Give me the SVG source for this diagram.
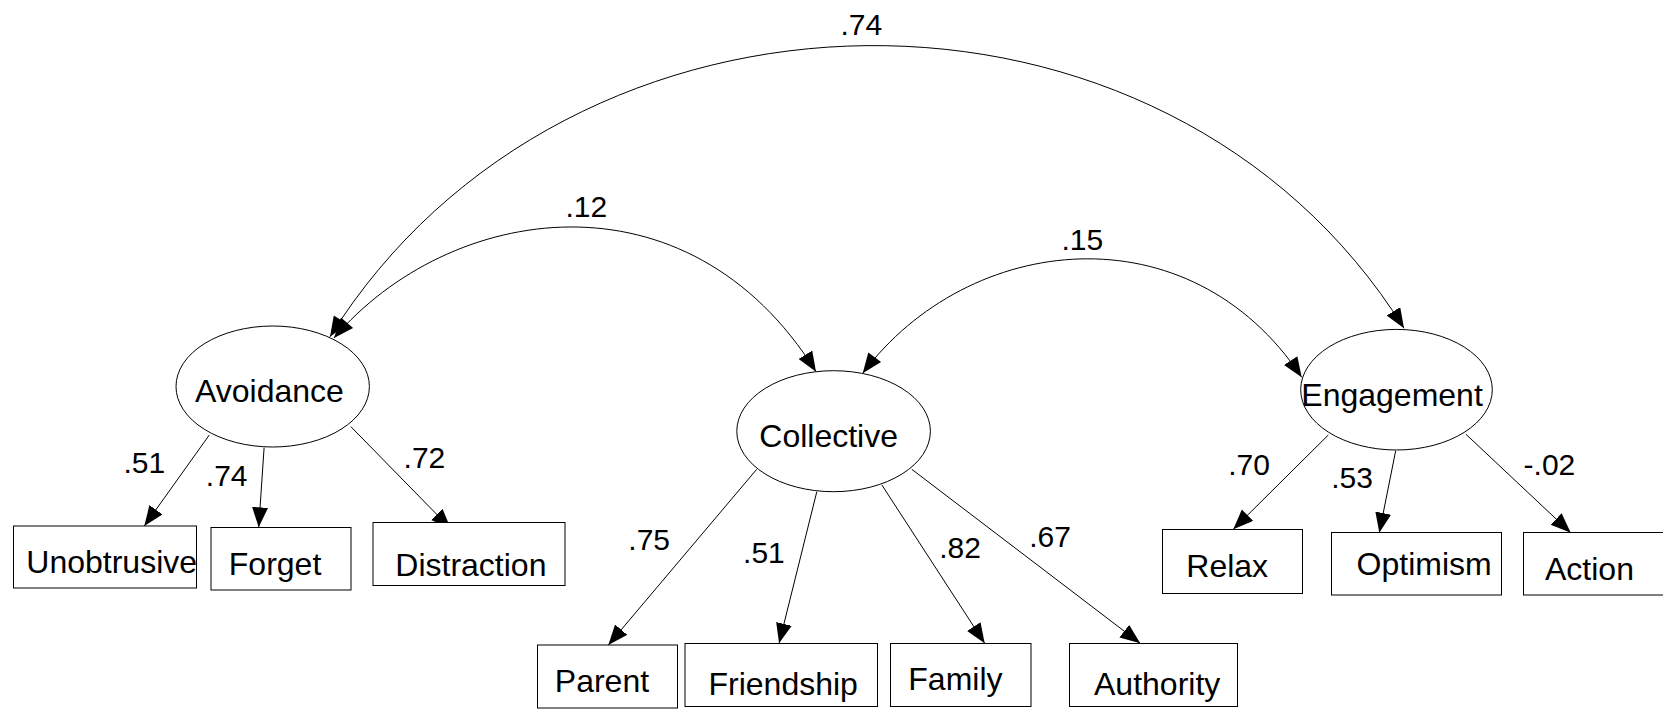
<svg xmlns="http://www.w3.org/2000/svg" width="1663" height="709" viewBox="0 0 1663 709">
<defs>
<marker id="ah" markerUnits="userSpaceOnUse" markerWidth="22" markerHeight="18" refX="20" refY="8" orient="auto">
<path d="M0,0 L20,8 L0,16 z" fill="#000"/>
</marker>
<marker id="ahs" markerUnits="userSpaceOnUse" markerWidth="22" markerHeight="18" refX="0" refY="8" orient="auto">
<path d="M20,0 L0,8 L20,16 z" fill="#000"/>
</marker>
<style>
.n{fill:#fff;stroke:#000;stroke-width:1}
.t{font-family:"Liberation Sans",Arial,sans-serif;font-size:32px;fill:#000}
.l{font-family:"Liberation Sans",Arial,sans-serif;font-size:30px;fill:#000}
.c{fill:none;stroke:#000;stroke-width:1;marker-end:url(#ah)}
.cc{fill:none;stroke:#000;stroke-width:1;marker-start:url(#ahs);marker-end:url(#ah)}
</style>
</defs>
<rect width="1663" height="709" fill="#fff"/>

<g id="connectors">
<path class="cc" d="M330,336.7 C568.5,-45.8 1165.5,-54.2 1404,328.3"/>
<path class="cc" d="M334,338 C449.2,203.3 687.4,165.4 816,371.7"/>
<path class="cc" d="M862.7,373.3 C968.8,231.9 1189.8,208.4 1301.7,377.3"/>
<line class="c" x1="209.3" y1="435" x2="144.3" y2="526"/>
<line class="c" x1="264.1" y1="447.7" x2="258.7" y2="527.3"/>
<line class="c" x1="350.9" y1="426.7" x2="450.8" y2="528.7"/>
<line class="c" x1="756.7" y1="469.3" x2="608.3" y2="645"/>
<line class="c" x1="816.8" y1="491.7" x2="779.1" y2="643.3"/>
<line class="c" x1="881.9" y1="485" x2="984.7" y2="643.3"/>
<line class="c" x1="911.8" y1="469.3" x2="1140.2" y2="643.3"/>
<line class="c" x1="1328.3" y1="435" x2="1233.3" y2="529.3"/>
<line class="c" x1="1395.7" y1="450.7" x2="1379.3" y2="532.7"/>
<line class="c" x1="1466" y1="434.3" x2="1570.7" y2="532.7"/>
<text class="l" x="840.5" y="35">.74</text>
<text class="l" x="565.5" y="216.7">.12</text>
<text class="l" x="1061.5" y="250">.15</text>
<text class="l" x="123.5" y="472.7">.51</text>
<text class="l" x="205.8" y="486">.74</text>
<text class="l" x="403.6" y="467.7">.72</text>
<text class="l" x="628.3" y="550">.75</text>
<text class="l" x="743.1" y="563.3">.51</text>
<text class="l" x="939.2" y="558.3">.82</text>
<text class="l" x="1029.2" y="547.3">.67</text>
<text class="l" x="1228.2" y="475">.70</text>
<text class="l" x="1331.2" y="488.3">.53</text>
<text class="l" x="1523.6" y="475">-.02</text>
</g>

<g id="avoidance"><ellipse class="n" cx="272.7" cy="386.5" rx="96.7" ry="60.5"/><text class="t" x="195" y="401.7">Avoidance</text></g>
<g id="collective"><ellipse class="n" cx="833.6" cy="431.2" rx="96.8" ry="60.5"/><text class="t" x="759.3" y="446.7">Collective</text></g>
<g id="engagement"><ellipse class="n" cx="1396.5" cy="389.7" rx="95.8" ry="60.3"/><text class="t" x="1301.3" y="406">Engagement</text></g>

<g id="unobtrusive"><rect class="n" x="13.5" y="526" width="183" height="62"/><text class="t" x="26.3" y="572.7">Unobtrusive</text></g>
<g id="forget"><rect class="n" x="211" y="527.5" width="140" height="62.5"/><text class="t" x="228.8" y="575">Forget</text></g>
<g id="distraction"><rect class="n" x="373" y="522.5" width="192" height="63"/><text class="t" x="395.3" y="576">Distraction</text></g>
<g id="parent"><rect class="n" x="537.5" y="645" width="140" height="63"/><text class="t" x="554.8" y="691.7">Parent</text></g>
<g id="friendship"><rect class="n" x="685" y="643.5" width="192.5" height="63"/><text class="t" x="708.5" y="695">Friendship</text></g>
<g id="family"><rect class="n" x="890.5" y="643.5" width="140.5" height="63"/><text class="t" x="908.3" y="690">Family</text></g>
<g id="authority"><rect class="n" x="1069.5" y="643.5" width="168" height="63"/><text class="t" x="1094" y="695">Authority</text></g>
<g id="relax"><rect class="n" x="1162.5" y="529.5" width="140" height="64"/><text class="t" x="1186.3" y="577.3">Relax</text></g>
<g id="optimism"><rect class="n" x="1331.5" y="532.5" width="170" height="62.5"/><text class="t" x="1356.6" y="575">Optimism</text></g>
<g id="action"><rect class="n" x="1523.5" y="532.5" width="145" height="62.5"/><text class="t" x="1545" y="580">Action</text></g>
</svg>
